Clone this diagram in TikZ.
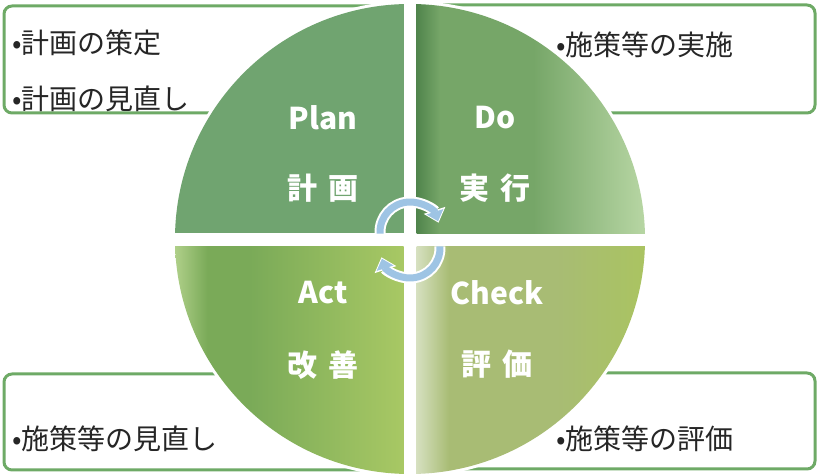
\documentclass[tikz,border=0pt]{standalone}
\usepackage{fontspec}
\setmainfont{Noto Sans CJK JP}
\usepackage{xcolor}
\definecolor{memogreen}{RGB}{110,170,102}
\definecolor{plangreen}{RGB}{112,164,112}
\definecolor{doleft}{RGB}{80,132,76}
\definecolor{domid}{RGB}{118,166,104}
\definecolor{doright}{RGB}{186,216,166}
\definecolor{actpale}{RGB}{176,208,138}
\definecolor{actleft}{RGB}{122,170,88}
\definecolor{actright}{RGB}{168,200,100}
\definecolor{checkpale}{RGB}{214,224,192}
\definecolor{checkmid}{RGB}{168,188,116}
\definecolor{checkright}{RGB}{170,196,96}
\definecolor{cycleblue}{RGB}{158,196,228}
\usepackage{tikz}
\usetikzlibrary{arrows.meta}

% Shadings of the quarters (path box = 25bp..75bp)
\pgfdeclarehorizontalshading{doshade}{100bp}{color(0bp)=(doleft); color(25bp)=(doleft);
  color(30bp)=(domid); color(50bp)=(domid); color(75bp)=(doright); color(100bp)=(doright)}
\pgfdeclarehorizontalshading{actshade}{100bp}{color(0bp)=(actpale); color(26bp)=(actpale);
  color(33bp)=(actleft); color(42bp)=(actleft); color(75bp)=(actright); color(100bp)=(actright)}
\pgfdeclarehorizontalshading{checkshade}{100bp}{color(0bp)=(checkpale); color(25bp)=(checkpale);
  color(32bp)=(checkmid); color(55bp)=(checkmid); color(75bp)=(checkright); color(100bp)=(checkright)}

\begin{document}
\begin{tikzpicture}[
    x=1pt, y=1pt,
    memo/.style={draw=memogreen, line width=3pt, rounded corners=8pt, fill=white},
    memotext/.style={anchor=west, inner sep=0pt, font=\fontsize{28}{32}\selectfont, text=black!85},
    phase/.style={inner sep=0pt, font=\fontsize{30}{32}\selectfont\bfseries, text=white},
    cycleout/.style={white, line width=11pt, -{Triangle[width=22pt, length=13pt]}},
    cyclein/.style={cycleblue, line width=7pt, shorten >=1.5pt, -{Triangle[width=17pt, length=10pt]}},
  ]
    \useasboundingbox (0,0) rectangle (819,476);

    % Boxes (partly hidden by the circle)
    \draw[memo] (4,470) rectangle (420,363);
    \draw[memo] (400,471) rectangle (815,363);
    \draw[memo] (4,102) rectangle (420,6);
    \draw[memo] (400,103) rectangle (815,7);

    % White disc with the four quarters
    \fill[white] (410,237) circle (238);
    \begin{scope}
      \clip (410,237) circle (235);
      \fill[plangreen] (170,242.5) rectangle (403.5,476);
      \shade[shading=doshade] (416.5,242.5) rectangle (650,476);
      \shade[shading=actshade] (170,0) rectangle (403.5,229.5);
      \shade[shading=checkshade] (416.5,0) rectangle (650,229.5);
    \end{scope}

    % Box texts
    \node[memotext] (plan1) at (12,433) {•計画の策定};
    \node[memotext] (plan2) at (12,377) {•計画の見直し};
    \node[memotext] (do1) at (556,431) {•施策等の実施};
    \node[memotext] (act1) at (12,37) {•施策等の見直し};
    \node[memotext] (check1) at (556,37) {•施策等の評価};

    % Quarter labels
    \node[phase] (plan) at (323,358) {Plan};
    \node[phase] (planjp) at (323,288) {計\hspace{0.35em}画};
    \node[phase] (do) at (495,358) {Do};
    \node[phase] (dojp) at (495,288) {実\hspace{0.35em}行};
    \node[phase] (act) at (323,183) {Act};
    \node[phase] (actjp) at (323,111) {改\hspace{0.35em}善};
    \node[phase] (check) at (497,183) {Check};
    \node[phase] (checkjp) at (497,112) {評\hspace{0.35em}価};

    % Cycle arrows in the middle
    \coordinate (uparc) at (410,244);
    \coordinate (lowarc) at (410,228);
    \draw[cycleout] (uparc) ++(183:30) arc[start angle=183, end angle=18, radius=30];
    \draw[cyclein] (uparc) ++(183:30) arc[start angle=183, end angle=18, radius=30];
    \draw[cycleout] (lowarc) ++(3:30) arc[start angle=3, end angle=-162, radius=30];
    \draw[cyclein] (lowarc) ++(3:30) arc[start angle=3, end angle=-162, radius=30];
  \end{tikzpicture}
\end{document}
